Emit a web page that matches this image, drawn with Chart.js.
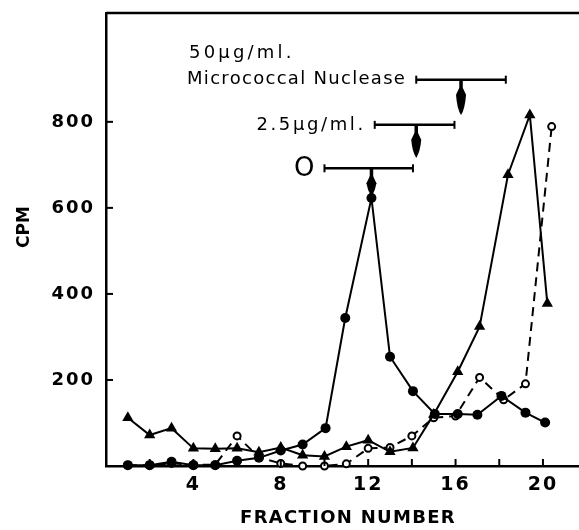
<!DOCTYPE html>
<html>
<head>
<meta charset="utf-8">
<script src="https://cdn.jsdelivr.net/npm/chart.js@4.4.0/dist/chart.umd.min.js"></script>
<style>
  html, body { margin: 0; padding: 0; background: #fff; overflow: hidden; }
  #wrap { width: 579px; height: 530px; }
  canvas { display: block; }
</style>
</head>
<body>
<div id="wrap"><canvas id="cpmChart"></canvas></div>
<script>
// Filled circles, solid line
const circleX = [1, 2, 3, 4, 5, 6, 7, 8, 9, 10.05, 10.95, 12.15, 13, 14.05, 15.05, 16.1, 17, 18.1, 19.2, 20.1];
const circleCpm = [2, 2, 10, 2, 2, 12, 19, 36, 50, 88, 344, 623, 254, 174, 121, 121, 119, 163, 124, 101];

// Filled triangles, solid line
const triangleX = [1, 2, 3, 4, 5, 6, 7, 8, 9, 10, 11, 12, 13, 14.05, 15, 16.1, 17.1, 18.4, 19.4, 20.2];
const triangleCpm = [112, 72, 88, 41, 40, 41, 32, 43, 25, 22, 45, 60, 33, 42, 120, 219, 324, 677, 816, 378];

// Open circles, dashed line
const openX = [1, 2, 3, 4, 5, 6, 7, 8, 9, 10, 11, 12, 13, 14, 15, 16, 17.1, 18.2, 19.2, 20.4];
const openCpm = [2, 2, 6, 3, 3, 70, 20, 6, 0, 0, 5, 41, 43, 70, 112, 116, 206, 154, 191, 789];

// Nuclease markers (bar range in fractions, arrow position)
const doseLabels = ['Micrococcal Nuclease', '2.5μg/ml.', 'O'];
const barLeft = [14.2, 12.3, 10.0];
const barRight = [18.3, 15.95, 14.05];
const barLevel = [898, 793, 692];
const arrowAt = [16.25, 14.2, 12.15];
const arrowTip = [816, 716, 626];

const toPoints = (xs, ys) => xs.map((x, i) => ({ x: x, y: ys[i] }));

const figureExtras = {
    id: 'figureExtras',
    beforeDraw(chart) {
        chart.ctx.letterSpacing = '2px';
    },
    afterDraw(chart) {
        const { ctx, chartArea: a, scales: { x, y } } = chart;
        ctx.save();
        ctx.strokeStyle = '#000';
        ctx.fillStyle = '#000';

        // top frame line
        ctx.lineWidth = 2.5;
        ctx.beginPath();
        ctx.moveTo(a.left, a.top);
        ctx.lineTo(a.right, a.top);
        ctx.stroke();

        // inward tick marks
        ctx.lineWidth = 2;
        x.ticks.forEach(t => {
            if (t.value <= 0 || t.value > 20) return;
            const px = x.getPixelForValue(t.value);
            ctx.beginPath();
            ctx.moveTo(px, a.bottom);
            ctx.lineTo(px, a.bottom - 7);
            ctx.stroke();
        });
        y.ticks.forEach(t => {
            if (t.value <= 0 || t.value > 800) return;
            const py = y.getPixelForValue(t.value);
            ctx.beginPath();
            ctx.moveTo(a.left, py);
            ctx.lineTo(a.left + 7, py);
            ctx.stroke();
        });

        // axis titles
        ctx.letterSpacing = '1.3px';
        ctx.font = 'bold 18px "DejaVu Sans"';
        ctx.textAlign = 'center';
        ctx.textBaseline = 'middle';
        ctx.fillText('FRACTION NUMBER', 348, 518);
        ctx.save();
        ctx.translate(25, 227);
        ctx.rotate(-Math.PI / 2);
        ctx.letterSpacing = '0px';
        ctx.font = 'bold 17px "DejaVu Sans"';
        ctx.fillText('CPM', 0, 0);
        ctx.restore();

        // nuclease bars and arrows
        for (let i = 0; i < barLeft.length; i++) {
            const x0 = x.getPixelForValue(barLeft[i]);
            const x1 = x.getPixelForValue(barRight[i]);
            const by = y.getPixelForValue(barLevel[i]);
            const ax = x.getPixelForValue(arrowAt[i]);
            const tip = y.getPixelForValue(arrowTip[i]);

            ctx.lineWidth = 2.5;
            ctx.beginPath();
            ctx.moveTo(x0, by);
            ctx.lineTo(x1, by);
            ctx.stroke();
            ctx.lineWidth = 2;
            [x0, x1].forEach(ex => {
                ctx.beginPath();
                ctx.moveTo(ex, by - 4);
                ctx.lineTo(ex, by + 4);
                ctx.stroke();
            });

            const headTop = by + 9;
            ctx.lineWidth = 3.5;
            ctx.beginPath();
            ctx.moveTo(ax, by);
            ctx.lineTo(ax, headTop + 2);
            ctx.stroke();
            ctx.beginPath();
            ctx.moveTo(ax - 1.7, headTop - 1);
            ctx.lineTo(ax - 5, headTop + 6);
            ctx.quadraticCurveTo(ax - 4, tip - 6, ax, tip);
            ctx.quadraticCurveTo(ax + 4, tip - 6, ax + 5, headTop + 6);
            ctx.lineTo(ax + 1.7, headTop - 1);
            ctx.closePath();
            ctx.fill();

            ctx.textAlign = 'right';
            ctx.textBaseline = 'middle';
            if (i === 2) {
                ctx.letterSpacing = '0px';
                ctx.font = '26px "DejaVu Sans"';
                ctx.fillText(doseLabels[i], x0 - 10, by + 1);
            } else if (i === 1) {
                ctx.letterSpacing = '2.6px';
                ctx.font = '18px "DejaVu Sans"';
                ctx.fillText(doseLabels[i], x0 - 9, by);
            } else {
                ctx.letterSpacing = '1.3px';
                ctx.font = '18px "DejaVu Sans"';
                ctx.fillText(doseLabels[i], x0 - 10, by);
            }
            if (i === 0) {
                const w = ctx.measureText(doseLabels[0]).width;
                ctx.textAlign = 'left';
                ctx.letterSpacing = '3.2px';
                ctx.fillText('50μg/ml.', x0 - 8 - w, by - 26);
            }
        }
        ctx.restore();
    }
};

new Chart(document.getElementById('cpmChart'), {
    type: 'line',
    data: {
        datasets: [
            {
                data: toPoints(circleX, circleCpm),
                borderColor: '#000',
                backgroundColor: '#000',
                borderWidth: 2,
                pointStyle: 'circle',
                pointRadius: 5,
                pointBackgroundColor: '#000',
                pointBorderWidth: 0,
                tension: 0,
                clip: false
            },
            {
                data: toPoints(triangleX, triangleCpm),
                borderColor: '#000',
                backgroundColor: '#000',
                borderWidth: 2,
                pointStyle: 'triangle',
                pointRadius: 6.5,
                pointBackgroundColor: '#000',
                pointBorderWidth: 0,
                tension: 0,
                clip: false
            },
            {
                data: toPoints(openX, openCpm),
                borderColor: '#000',
                backgroundColor: '#fff',
                borderWidth: 2,
                borderDash: [9, 6],
                pointStyle: 'circle',
                pointRadius: 3.5,
                pointBackgroundColor: '#fff',
                pointBorderColor: '#000',
                pointBorderWidth: 2,
                tension: 0,
                clip: false
            }
        ]
    },
    options: {
        responsive: true,
        maintainAspectRatio: false,
        animation: false,
        events: [],
        layout: {
            autoPadding: false,
            padding: { top: 13, right: 0, left: 0, bottom: 0 }
        },
        plugins: {
            legend: { display: false },
            tooltip: { enabled: false }
        },
        scales: {
            x: {
                type: 'linear',
                min: 0,
                max: 21.65,
                afterFit: (s) => {
                    s.height = 64;
                    s.paddingLeft = 0;
                    s.paddingRight = 0;
                },
                afterBuildTicks: (s) => {
                    s.ticks = [2, 4, 6, 8, 10, 12, 14, 16, 18, 20].map(v => ({ value: v }));
                },
                ticks: {
                    color: '#000',
                    padding: 0,
                    maxRotation: 0,
                    autoSkip: false,
                    font: { family: 'DejaVu Sans', size: 19, weight: 'bold' },
                    callback: (v) => (v % 4 === 0 ? v : '')
                },
                grid: { display: false },
                border: { display: true, color: '#000', width: 2.5 }
            },
            y: {
                min: 0,
                max: 1053,
                afterFit: (s) => {
                    s.width = 106;
                    s.paddingTop = 0;
                    s.paddingBottom = 0;
                },
                afterBuildTicks: (s) => {
                    s.ticks = [200, 400, 600, 800].map(v => ({ value: v }));
                },
                ticks: {
                    color: '#000',
                    padding: 3,
                    font: { family: 'DejaVu Sans', size: 18, weight: 'bold' }
                },
                grid: { display: false },
                border: { display: true, color: '#000', width: 2.5 }
            }
        }
    },
    plugins: [figureExtras]
});
</script>
</body>
</html>
